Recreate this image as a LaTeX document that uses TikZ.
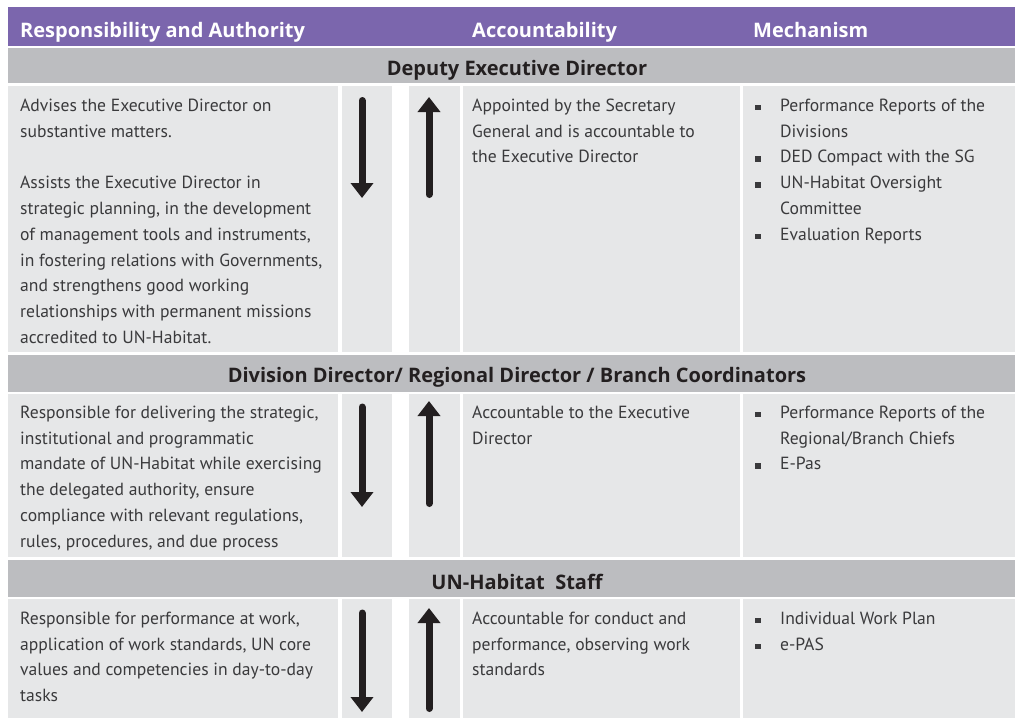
\documentclass[tikz,border=0pt]{standalone}
\usepackage{fontspec}
\setmainfont{PT Sans}
\newfontfamily\headfont{Open Sans}
\usetikzlibrary{arrows.meta}
\definecolor{hdr}{HTML}{7B66AD}
\definecolor{band}{HTML}{BCBDC0}
\definecolor{cellc}{HTML}{E6E7E8}
\definecolor{txt}{HTML}{3A3A3C}
\definecolor{dark}{HTML}{231F20}
\newcommand{\bul}{\makebox[25pt][l]{\raisebox{1pt}{\rule{5.5pt}{5.5pt}}}}
\newcommand{\nob}{\hspace*{25pt}}
\newcommand{\fst}{\rule{0pt}{18pt}}
\tikzset{
  cellbox/.style={fill=cellc, draw=none},
  bandbox/.style={fill=band, draw=none},
  bodytext/.style={anchor=north west, inner sep=0pt, align=left, text=txt,
    font=\fontsize{17.6}{25.8}\selectfont},
  hdrtext/.style={anchor=base west, inner sep=0pt, text=white,
    font=\headfont\bfseries\fontsize{20}{24}\selectfont},
  bandtext/.style={anchor=base, inner sep=0pt, text=dark,
    font=\headfont\bfseries\fontsize{20}{24}\selectfont},
  bigarrow/.style={line width=7pt, line cap=round, draw=dark,
    -{Triangle[width=22pt,length=15pt]}}
}
% first baseline y minus top rule height (18pt)
\newcommand{\bl}[1]{\fpeval{#1-18}}
\begin{document}
\begin{tikzpicture}[x=1pt,y=-1pt]
\useasboundingbox (0,0) rectangle (1015,718);
\fill[white] (0,0) rectangle (1015,718);
% header
\fill[hdr] (8,7) rectangle (1015,46);
\node[hdrtext] (h1) at (20,37) {Responsibility and Authority};
\node[hdrtext] (h2) at (472,37) {Accountability};
\node[hdrtext] (h3) at (753,37) {Mechanism};
% bands
\fill[bandbox] (8,47.5) rectangle (1015,83);
\fill[bandbox] (8,355) rectangle (1015,392);
\fill[bandbox] (8,560) rectangle (1015,597);
\node[bandtext] (b1) at (517,75) {Deputy Executive Director};
\node[bandtext] (b2) at (517,382) {Division Director/ Regional Director / Branch Coordinators};
\node[bandtext] (b3) at (517,589) {UN-Habitat\ \ Staff};
% cells
\foreach \ya/\yb in {86/352, 394/557, 599/718}{
  \fill[cellbox] (8,\ya) rectangle (338,\yb);
  \fill[cellbox] (342,\ya) rectangle (392,\yb);
  \fill[cellbox] (409,\ya) rectangle (460,\yb);
  \fill[cellbox] (463,\ya) rectangle (740,\yb);
  \fill[cellbox] (743,\ya) rectangle (1015,\yb);
}
% row 1
\node[bodytext] (r1a) at (20,\bl{111}) {\fst Advises the Executive Director on\\substantive matters.\\[25.8pt]Assists the Executive Director in\\strategic planning, in the development\\of management tools and instruments,\\in fostering relations with Governments,\\and strengthens good working\\relationships with permanent missions\\accredited to UN-Habitat.};
\node[bodytext] (r1b) at (472,\bl{111}) {\fst Appointed by the Secretary\\General and is accountable to\\the Executive Director};
\node[bodytext] (r1c) at (755,\bl{111}) {\fst\bul Performance Reports of the\\\nob Divisions\\\bul DED Compact with the SG\\\bul UN-Habitat Oversight\\\nob Committee\\\bul Evaluation Reports};
% row 2
\node[bodytext] (r2a) at (20,\bl{418}) {\fst Responsible for delivering the strategic,\\institutional and programmatic\\mandate of UN-Habitat while exercising\\the delegated authority, ensure\\compliance with relevant regulations,\\rules, procedures, and due process};
\node[bodytext] (r2b) at (472,\bl{418}) {\fst Accountable to the Executive\\Director};
\node[bodytext] (r2c) at (755,\bl{418}) {\fst\bul Performance Reports of the\\\nob Regional/Branch Chiefs\\\bul E-Pas};
% row 3
\node[bodytext] (r3a) at (20,\bl{624}) {\fst Responsible for performance at work,\\application of work standards, UN core\\values and competencies in day-to-day\\tasks};
\node[bodytext] (r3b) at (472,\bl{624}) {\fst Accountable for conduct and\\performance, observing work\\standards};
\node[bodytext] (r3c) at (755,\bl{624}) {\fst\bul Individual Work Plan\\\bul e-PAS};
% arrows
\coordinate (d1s) at (362,100.5); \coordinate (d1e) at (362,198);
\coordinate (u1s) at (429,194.5); \coordinate (u1e) at (429,97);
\coordinate (d2s) at (362,407);   \coordinate (d2e) at (362,507);
\coordinate (u2s) at (429,503.5); \coordinate (u2e) at (429,401);
\coordinate (d3s) at (362,613);   \coordinate (d3e) at (362,712);
\coordinate (u3s) at (429,708.5); \coordinate (u3e) at (429,608);
\draw[bigarrow] (d1s) -- (d1e);
\draw[bigarrow] (u1s) -- (u1e);
\draw[bigarrow] (d2s) -- (d2e);
\draw[bigarrow] (u2s) -- (u2e);
\draw[bigarrow] (d3s) -- (d3e);
\draw[bigarrow] (u3s) -- (u3e);
\end{tikzpicture}
\end{document}
